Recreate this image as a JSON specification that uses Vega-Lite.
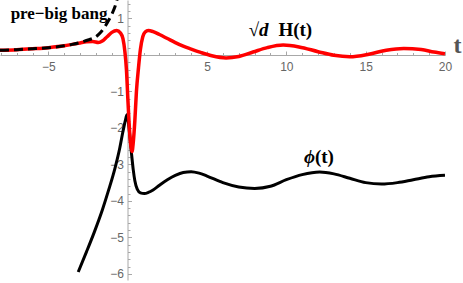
{
  "$schema": "https://vega.github.io/schema/vega-lite/v6.json",
  "width": 445,
  "height": 280,
  "autosize": "none",
  "padding": {"left": 0, "top": 0, "right": 18, "bottom": 3},
  "background": "white",
  "config": {"view": {"stroke": null}, "axis": {"grid": false}},
  "datasets": {
    "phi": [
      {"t": -3.12, "v": -5.95}, {"t": -2.6, "v": -5.4}, {"t": -2.1, "v": -4.85}, {"t": -1.6, "v": -4.25},
      {"t": -1.2, "v": -3.7}, {"t": -0.8, "v": -3.1}, {"t": -0.5, "v": -2.55}, {"t": -0.3, "v": -2.1},
      {"t": -0.15, "v": -1.8}, {"t": -0.05, "v": -1.64}, {"t": 0.05, "v": -1.85}, {"t": 0.15, "v": -2.3},
      {"t": 0.25, "v": -2.75}, {"t": 0.35, "v": -3.15}, {"t": 0.45, "v": -3.45}, {"t": 0.6, "v": -3.68},
      {"t": 0.8, "v": -3.78}, {"t": 1.05, "v": -3.8}, {"t": 1.3, "v": -3.77}, {"t": 1.6, "v": -3.7},
      {"t": 2.0, "v": -3.57}, {"t": 2.5, "v": -3.42}, {"t": 3.0, "v": -3.3}, {"t": 3.5, "v": -3.22},
      {"t": 4.0, "v": -3.2}, {"t": 4.5, "v": -3.24}, {"t": 5.0, "v": -3.32}, {"t": 6.0, "v": -3.5},
      {"t": 7.0, "v": -3.62}, {"t": 8.0, "v": -3.66}, {"t": 9.0, "v": -3.6}, {"t": 10.0, "v": -3.42},
      {"t": 11.0, "v": -3.28}, {"t": 12.1, "v": -3.21}, {"t": 13.0, "v": -3.26}, {"t": 14.0, "v": -3.38},
      {"t": 15.0, "v": -3.5}, {"t": 16.0, "v": -3.54}, {"t": 17.0, "v": -3.5}, {"t": 18.0, "v": -3.42},
      {"t": 19.0, "v": -3.34}, {"t": 20.0, "v": -3.3}
    ],
    "H": [
      {"t": -8.05, "v": 0.13}, {"t": -7, "v": 0.145}, {"t": -6, "v": 0.17}, {"t": -5, "v": 0.2},
      {"t": -4, "v": 0.25}, {"t": -3.5, "v": 0.29}, {"t": -3, "v": 0.33}, {"t": -2.6, "v": 0.36},
      {"t": -2.2, "v": 0.37}, {"t": -1.85, "v": 0.34}, {"t": -1.6, "v": 0.38}, {"t": -1.3, "v": 0.5},
      {"t": -1.0, "v": 0.62}, {"t": -0.7, "v": 0.67}, {"t": -0.45, "v": 0.6}, {"t": -0.3, "v": 0.45},
      {"t": -0.18, "v": 0.1}, {"t": -0.08, "v": -0.4}, {"t": 0.02, "v": -1.3}, {"t": 0.12, "v": -2.1},
      {"t": 0.2, "v": -2.5}, {"t": 0.27, "v": -2.65}, {"t": 0.35, "v": -2.4}, {"t": 0.45, "v": -1.8},
      {"t": 0.55, "v": -1.0}, {"t": 0.68, "v": -0.35}, {"t": 0.8, "v": 0.15}, {"t": 0.95, "v": 0.5},
      {"t": 1.1, "v": 0.63}, {"t": 1.3, "v": 0.67}, {"t": 1.6, "v": 0.64}, {"t": 2.0, "v": 0.56},
      {"t": 2.5, "v": 0.45}, {"t": 3.0, "v": 0.34}, {"t": 3.5, "v": 0.24}, {"t": 4.0, "v": 0.16},
      {"t": 4.6, "v": 0.07}, {"t": 5.3, "v": -0.02}, {"t": 6.2, "v": -0.08}, {"t": 7.0, "v": -0.04},
      {"t": 7.9, "v": 0.08}, {"t": 8.8, "v": 0.2}, {"t": 9.8, "v": 0.27}, {"t": 10.8, "v": 0.22},
      {"t": 12.0, "v": 0.09}, {"t": 13.0, "v": -0.01}, {"t": 14.0, "v": -0.05}, {"t": 15.2, "v": 0.02},
      {"t": 16.3, "v": 0.13}, {"t": 17.4, "v": 0.18}, {"t": 18.5, "v": 0.15}, {"t": 19.3, "v": 0.08},
      {"t": 20.0, "v": 0.03}
    ],
    "pre": [
      {"t": -8.05, "v": 0.13}, {"t": -7, "v": 0.145}, {"t": -6, "v": 0.17}, {"t": -5, "v": 0.2},
      {"t": -4, "v": 0.25}, {"t": -3.5, "v": 0.29}, {"t": -3, "v": 0.34}, {"t": -2.5, "v": 0.41},
      {"t": -2.0, "v": 0.5}, {"t": -1.7, "v": 0.62}, {"t": -1.4, "v": 0.8}, {"t": -1.2, "v": 0.95},
      {"t": -1.0, "v": 1.12}, {"t": -0.8, "v": 1.33}, {"t": -0.62, "v": 1.6}
    ],
    "smalltext": [
      {"t": -7.38, "v": 0.98, "label": "pre−big bang"}
    ],
    "boldtext": [
      {"t": 9.5, "v": 0.52, "label": "H(t)"},
      {"t": 11.8, "v": -2.96, "label": "(t)"}
    ],
    "italtext": [
      {"t": 7.62, "v": 0.52, "label": "√d"},
      {"t": 11.12, "v": -2.96, "label": "ϕ"}
    ]
  },
  "resolve": {"axis": {"x": "independent", "y": "independent"}},
  "layer": [
    {
      "data": {"name": "phi"},
      "mark": {"type": "line", "color": "black", "strokeWidth": 3, "interpolate": "monotone", "clip": true},
      "encoding": {
        "x": {"field": "t", "type": "quantitative", "scale": {"domain": [-8.05, 20], "nice": false, "zero": false},
          "axis": {"orient": "bottom", "offset": -225, "values": [-5, 5, 10, 15, 20], "tickSize": -4,
            "domainColor": "#a8a8a8", "tickColor": "#a8a8a8", "labelColor": "#666666", "labelFont": "Liberation Sans",
            "labelFontSize": 12, "labelPadding": 10, "labelFlush": false,
            "title": "t", "titleFont": "Liberation Serif", "titleFontSize": 24, "titleFontWeight": "bold", "titleColor": "#555555",
            "titleX": 457, "titleY": -3, "titleAlign": "center", "titleBaseline": "alphabetic", "titleAngle": 0}},
        "y": {"field": "v", "type": "quantitative", "scale": {"domain": [-6.17, 1.507], "nice": false, "zero": false},
          "axis": {"orient": "left", "offset": -127.5, "values": [-6, -5, -4, -3, -2, -1, 1], "tickSize": -4,
            "domainColor": "#a8a8a8", "tickColor": "#a8a8a8", "labelColor": "#666666", "labelFont": "Liberation Sans",
            "labelFontSize": 12, "labelPadding": 8, "labelFlush": false, "title": null}}
      }
    },
    {
      "data": {"name": "H"},
      "mark": {"type": "line", "color": "#ff0000", "strokeWidth": 3.5, "interpolate": "monotone", "clip": true},
      "encoding": {
        "x": {"field": "t", "type": "quantitative",
          "axis": {"orient": "bottom", "offset": -225, "values": [-8, -7, -6, -4, -3, -2, -1, 1, 2, 3, 4, 6, 7, 8, 9, 11, 12, 13, 14, 16, 17, 18, 19],
            "tickSize": -2.5, "domain": false, "labels": false, "tickColor": "#a8a8a8", "title": null}},
        "y": {"field": "v", "type": "quantitative",
          "axis": {"orient": "left", "offset": -127.5, "values": [-5.8, -5.6, -5.4, -5.2, -4.8, -4.6, -4.4, -4.2, -3.8, -3.6, -3.4, -3.2, -2.8, -2.6, -2.4, -2.2, -1.8, -1.6, -1.4, -1.2, -0.8, -0.6, -0.4, -0.2, 0.2, 0.4, 0.6, 0.8, 1.2, 1.4],
            "tickSize": -2.5, "domain": false, "labels": false, "tickColor": "#a8a8a8", "title": null}}
      }
    },
    {
      "data": {"name": "pre"},
      "mark": {"type": "line", "color": "black", "strokeWidth": 3, "strokeDash": [9, 5], "interpolate": "monotone", "clip": true},
      "encoding": {
        "x": {"field": "t", "type": "quantitative", "axis": null},
        "y": {"field": "v", "type": "quantitative", "axis": null}
      }
    },
    {
      "data": {"name": "smalltext"},
      "mark": {"type": "text", "font": "Liberation Serif", "fontWeight": "bold", "fontSize": 17, "align": "left", "baseline": "alphabetic", "color": "black"},
      "encoding": {
        "x": {"field": "t", "type": "quantitative", "axis": null},
        "y": {"field": "v", "type": "quantitative", "axis": null},
        "text": {"field": "label"}
      }
    },
    {
      "data": {"name": "boldtext"},
      "mark": {"type": "text", "font": "Liberation Serif", "fontWeight": "bold", "fontSize": 19, "align": "left", "baseline": "alphabetic", "color": "black"},
      "encoding": {
        "x": {"field": "t", "type": "quantitative", "axis": null},
        "y": {"field": "v", "type": "quantitative", "axis": null},
        "text": {"field": "label"}
      }
    },
    {
      "data": {"name": "italtext"},
      "mark": {"type": "text", "font": "Liberation Serif", "fontWeight": "bold", "fontStyle": "italic", "fontSize": 19, "align": "left", "baseline": "alphabetic", "color": "black"},
      "encoding": {
        "x": {"field": "t", "type": "quantitative", "axis": null},
        "y": {"field": "v", "type": "quantitative", "axis": null},
        "text": {"field": "label"}
      }
    }
  ]
}
